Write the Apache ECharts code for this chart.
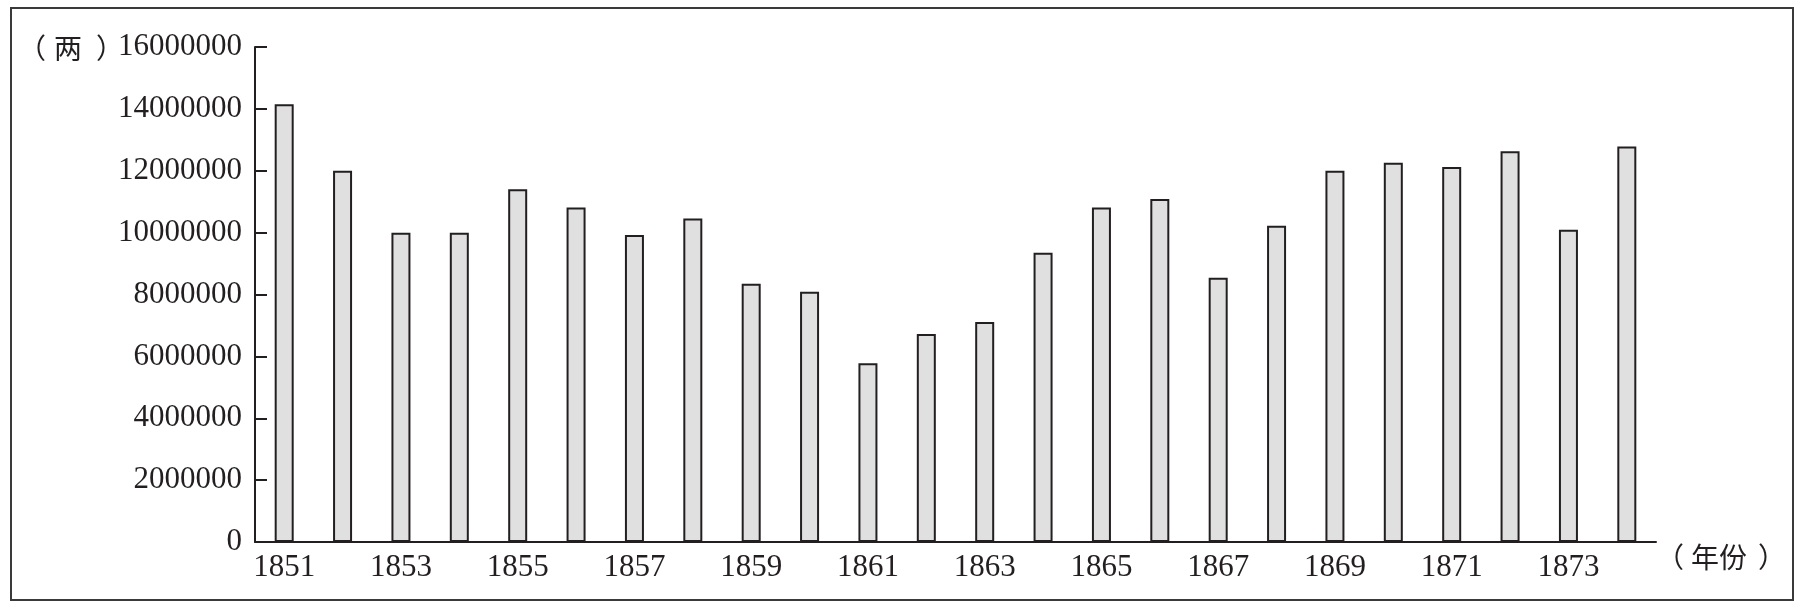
<!DOCTYPE html>
<html>
<head>
<meta charset="utf-8">
<title>1851-1874 年份 两</title>
<script src="https://cdn.jsdelivr.net/npm/echarts@6/dist/echarts.min.js"></script>
<style>
	html, body { margin: 0; padding: 0; background: #fff; }
	#chart { width: 1804px; height: 609px; }
</style>
</head>
<body>
<div id="chart"></div>
<script>
// years on the x axis
const years = ['1851', '1852', '1853', '1854', '1855', '1856', '1857', '1858', '1859', '1860', '1861', '1862',
	'1863', '1864', '1865', '1866', '1867', '1868', '1869', '1870', '1871', '1872', '1873', '1874'];
// amount per year (两)
const amounts = [14150000, 12000000, 10000000, 10000000, 11400000, 10810000, 9920000, 10460000, 8350000, 8090000, 5780000, 6720000,
	7110000, 9350000, 10810000, 11090000, 8540000, 10220000, 12000000, 12260000, 12120000, 12630000, 10090000, 12780000];
// y axis ticks
const yTicks = [0, 2000000, 4000000, 6000000, 8000000, 10000000, 12000000, 14000000, 16000000];

const ink = '#231f20';
const serif = '"Liberation Serif", "DejaVu Serif", serif';
const cjk = '"Noto Sans CJK SC", sans-serif';
const cjkFont = '28px ' + cjk;

const chart = echarts.init(document.getElementById('chart'));
chart.setOption({
	backgroundColor: '#fff',
	animation: false,
	grid: { left: 255, right: 148, top: 47, bottom: 67 },
	xAxis: {
		type: 'category',
		data: years,
		boundaryGap: true,
		axisLine: { lineStyle: { color: ink, width: 2 } },
		axisTick: { inside: true, length: 15, interval: 0, lineStyle: { color: ink, width: 2 } },
		axisLabel: { interval: 1, margin: 10, color: ink, fontFamily: serif, fontSize: 31 }
	},
	yAxis: {
		type: 'value',
		min: yTicks[0],
		max: yTicks[yTicks.length - 1],
		interval: yTicks[1] - yTicks[0],
		splitLine: { show: false },
		axisLine: { show: true, lineStyle: { color: ink, width: 2 } },
		axisTick: { show: true, inside: true, length: 12, lineStyle: { color: ink, width: 2 } },
		axisLabel: {
			margin: 13,
			color: ink,
			fontFamily: serif,
			fontSize: 31,
			formatter: (v) => String(v)
		}
	},
	series: [{
		type: 'bar',
		data: amounts,
		barWidth: 19,
		itemStyle: { color: '#e0e0e0', borderColor: ink, borderWidth: 2 }
	}],
	graphic: [
		{
			type: 'rect',
			shape: { x: 11, y: 8, width: 1782, height: 592 },
			style: { fill: 'none', stroke: '#3a3a3a', lineWidth: 2 },
			silent: true
		},
		// unit label: （两）  (full-width paren glyphs sit off-centre in their box)
		{ type: 'text', x: 32, y: 48, style: { text: '（', fill: ink, font: cjkFont, align: 'center', verticalAlign: 'middle' }, silent: true },
		{ type: 'text', x: 68, y: 48, style: { text: '两', fill: ink, font: cjkFont, align: 'center', verticalAlign: 'middle' }, silent: true },
		{ type: 'text', x: 110, y: 48, style: { text: '）', fill: ink, font: cjkFont, align: 'center', verticalAlign: 'middle' }, silent: true },
		// axis name: （年份）
		{ type: 'text', x: 1670, y: 557, style: { text: '（', fill: ink, font: cjkFont, align: 'center', verticalAlign: 'middle' }, silent: true },
		{ type: 'text', x: 1719, y: 557, style: { text: '年份', fill: ink, font: cjkFont, align: 'center', verticalAlign: 'middle' }, silent: true },
		{ type: 'text', x: 1772, y: 557, style: { text: '）', fill: ink, font: cjkFont, align: 'center', verticalAlign: 'middle' }, silent: true }
	]
});
</script>
</body>
</html>
